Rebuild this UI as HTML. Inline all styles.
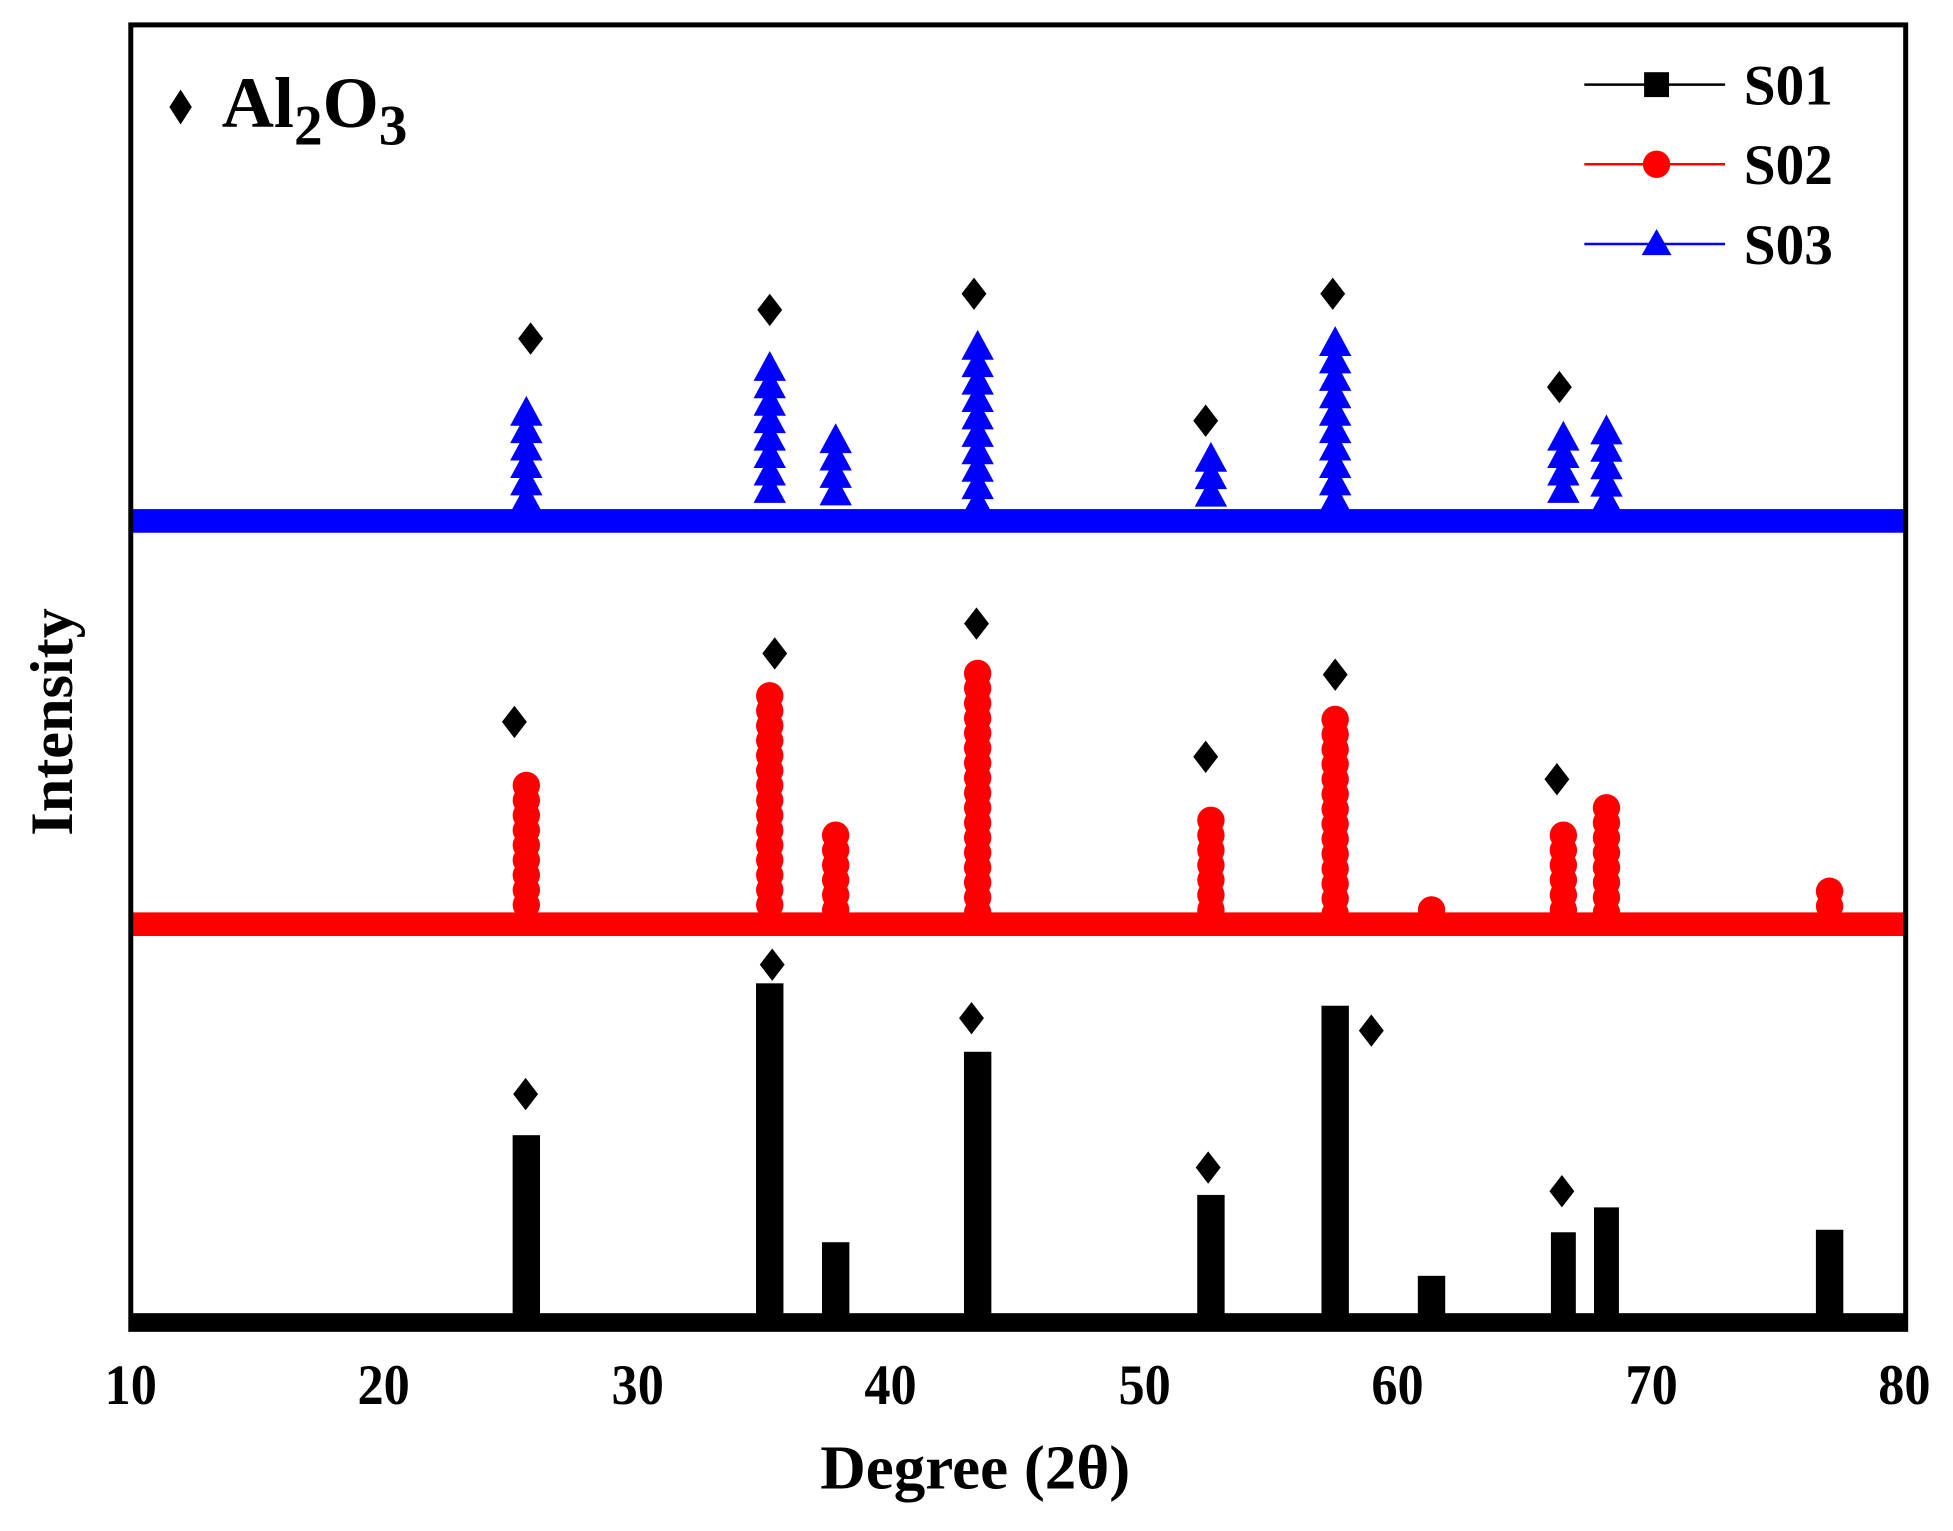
<!DOCTYPE html>
<html><head><meta charset="utf-8"><style>
html,body{margin:0;padding:0;background:#fff;}
svg{display:block;}
text{font-family:"Liberation Serif",serif;font-weight:bold;fill:#000;}
</style></head><body>
<svg id="s" width="1953" height="1531" viewBox="0 0 1568 1230" preserveAspectRatio="none" xmlns="http://www.w3.org/2000/svg">
<rect x="0" y="0" width="1568" height="1230" fill="#fff"/>
<g id="data"></g>
<rect x="105" y="20" width="1425" height="1048" fill="none" stroke="#000" stroke-width="4"/>
<g font-size="42" text-anchor="middle" transform="translate(0,1128) scale(1,1.1)">
<text x="105" y="0">10</text><text x="308" y="0">20</text><text x="512" y="0">30</text>
<text x="715" y="0">40</text><text x="919" y="0">50</text><text x="1122" y="0">60</text>
<text x="1326" y="0">70</text><text x="1529" y="0">80</text>
</g>
<text transform="translate(783,1196) scale(1.15,1.15)" font-size="44" text-anchor="middle">Degree (2θ)</text>
<text transform="translate(58,580) rotate(-90) scale(1.1,1.1)" font-size="44" text-anchor="middle">Intensity</text>
<polygon points="145,72 154,86 145,100 136,86" fill="#000"/>
<text x="178" y="102" font-size="58">Al<tspan font-size="46" dy="14">2</tspan><tspan dy="-14">O</tspan><tspan font-size="46" dy="14">3</tspan></text>
<line x1="1272" y1="68" x2="1385" y2="68" stroke="#000" stroke-width="2"/>
<rect x="1320" y="58" width="20" height="20" fill="#000"/>
<line x1="1272" y1="132" x2="1385" y2="132" stroke="#f00" stroke-width="2"/>
<circle cx="1330" cy="132" r="11" fill="#f00"/>
<line x1="1272" y1="196" x2="1385" y2="196" stroke="#00f" stroke-width="2"/>
<polygon points="1330,184 1342,205 1318,205" fill="#00f"/>
<g font-size="46"><text x="1400" y="84">S01</text><text x="1400" y="148">S02</text><text x="1400" y="212">S03</text></g>
</svg>
<script>
var g=document.getElementById('data'),NS='http://www.w3.org/2000/svg';
function el(t,a){var e=document.createElementNS(NS,t);for(var k in a)e.setAttribute(k,a[k]);g.appendChild(e);return e;}
function X(d){return 105+(d-10)*1425/70;}
function dia(x,y){el('polygon',{points:(x)+','+(y-13)+' '+(x+10)+','+y+' '+(x)+','+(y+13)+' '+(x-10)+','+y,fill:'#000'});}
// blue
el('rect',{x:105,y:409,width:1425,height:19,fill:'#00f'});
var bp=[[25.6,318],[35.2,282],[37.8,340],[43.4,265],[52.6,355],[57.5,262],[66.5,338],[68.2,333],[77,398]];
bp.forEach(function(p){var x=X(p[0]);for(var y=p[1];y<=392;y+=14){el('polygon',{points:x+','+y+' '+(x+13)+','+(y+24)+' '+(x-13)+','+(y+24),fill:'#00f'});}});
[[426,272],[618,249],[782,236],[968,338],[1070,236],[1252,311]].forEach(function(p){dia(p[0],p[1]);});
// red
el('rect',{x:105,y:733,width:1425,height:19,fill:'#f00'});
var rp=[[25.6,620],[35.2,548],[37.8,660],[43.4,530],[52.6,648],[57.5,567],[61.3,720],[66.5,660],[68.2,638],[77,705]];
rp.forEach(function(p){var x=X(p[0]);for(var y=p[1]+11;y<740;y+=12){el('circle',{cx:x,cy:y,r:11,fill:'#f00'});}});
[[413,580],[622,525],[784,501],[968,608],[1072,542],[1250,626]].forEach(function(p){dia(p[0],p[1]);});
// black
el('rect',{x:105,y:1055,width:1425,height:13,fill:'#000'});
var kp=[[25.6,912,22],[35.2,790,22],[37.8,998,22],[43.4,845,22],[52.6,960,22],[57.5,808,22],[61.3,1025,22],[66.5,990,20],[68.2,970,20],[77,988,22]];
kp.forEach(function(p){var x=X(p[0]);el('rect',{x:x-p[2]/2,y:p[1],width:p[2],height:1060-p[1],fill:'#000'});});
[[422,879],[620,775],[780,818],[1101,828],[970,938],[1254,957]].forEach(function(p){dia(p[0],p[1]);});
</script>
</body></html>
